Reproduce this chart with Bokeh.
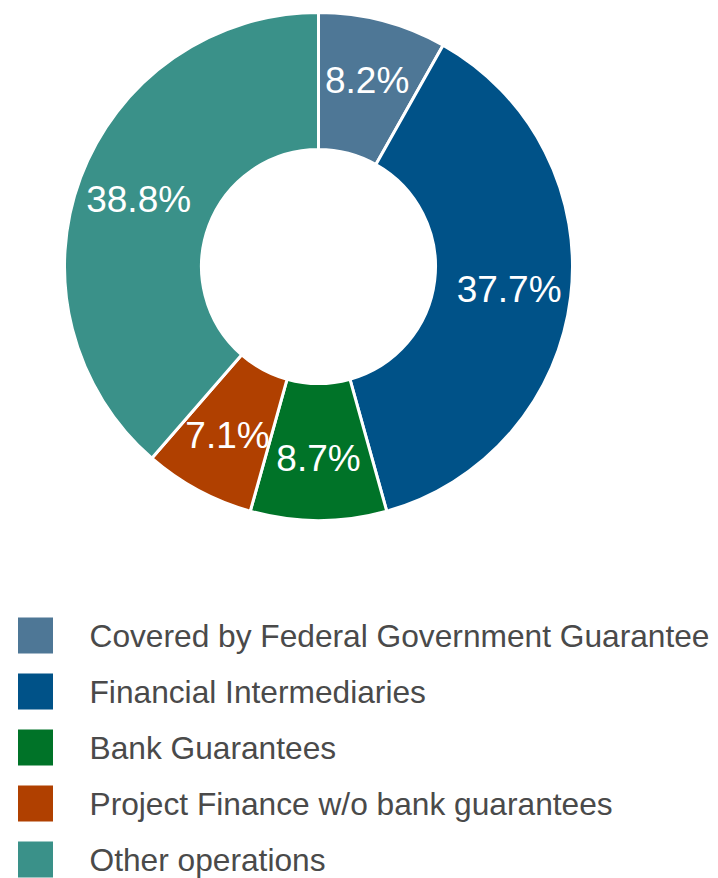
import math
from bokeh.plotting import figure
from bokeh.models import Range1d, ColumnDataSource
from bokeh.core.properties import value
from bokeh.embed import file_html
from bokeh.resources import INLINE

categories = [
    "Covered by Federal Government Guarantee",
    "Financial Intermediaries",
    "Bank Guarantees",
    "Project Finance w/o bank guarantees",
    "Other operations",
]
shares = [8.2, 37.7, 8.7, 7.1, 38.8]
labels = ["8.2%", "37.7%", "8.7%", "7.1%", "38.8%"]
colors = ["#4E7796", "#005288", "#007328", "#B04000", "#3A9189"]

W, H = 718, 878
cx, cy = 318, H - 266
r_out, r_in = 254, 117
r_lab = 192

total = sum(shares)
starts, ends, lx, ly = [], [], [], []
cum = 0.0
for s in shares:
    a0 = math.pi / 2 - 2 * math.pi * cum / total
    cum += s
    a1 = math.pi / 2 - 2 * math.pi * cum / total
    starts.append(a0)
    ends.append(a1)
    mid = (a0 + a1) / 2
    lx.append(cx + r_lab * math.cos(mid))
    ly.append(cy + r_lab * math.sin(mid))

src = ColumnDataSource(dict(start=starts, end=ends, color=colors,
                            lx=lx, ly=ly, label=labels))

p = figure(width=W, height=H, x_range=Range1d(0, W), y_range=Range1d(0, H),
           output_backend="svg", toolbar_location=None, min_border=0)
p.axis.visible = False
p.grid.visible = False
p.outline_line_color = None
p.background_fill_color = "white"

p.annular_wedge(x=cx, y=cy, inner_radius=r_in, outer_radius=r_out,
                start_angle="start", end_angle="end", direction="clock",
                fill_color="color", line_color="white", line_width=3,
                source=src)
p.text(x="lx", y="ly", text="label", source=src, text_color="white",
       text_font=value("Liberation Sans"), text_font_size="37px",
       text_align="center", text_baseline="middle")

# legend
leg_top = H - 635
step = 56
sq_x = [35] * len(categories)
sq_y = [leg_top - i * step for i in range(len(categories))]
tx = [89] * len(categories)
lsrc = ColumnDataSource(dict(x=sq_x, y=sq_y, tx=tx, name=categories, color=colors))
p.rect(x="x", y="y", width=35, height=36, fill_color="color", line_color=None, source=lsrc)
p.text(x="tx", y="y", text="name", source=lsrc, text_color="#4A4A4A",
       text_font=value("Liberation Sans"), text_font_size="31.7px",
       text_align="left", text_baseline="middle")

open("out.html", "w").write(file_html(p, INLINE))
